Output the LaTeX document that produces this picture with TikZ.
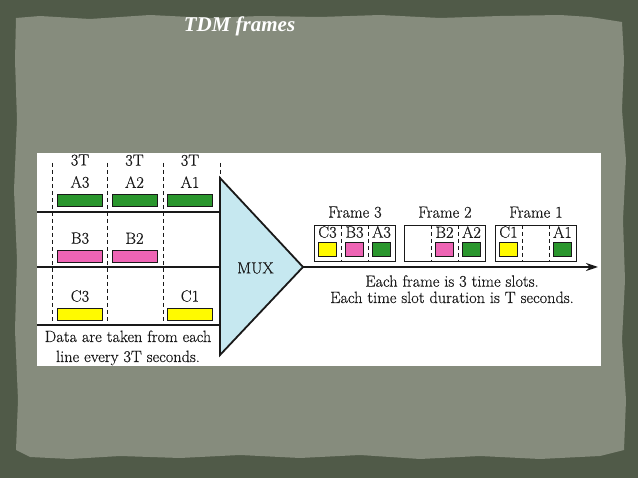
\documentclass[tikz,border=0pt]{standalone}
\usepackage{fontspec}
\usepackage{xcolor}
\usepackage{tikz}
\usetikzlibrary{arrows.meta,positioning}
\newfontfamily\titlefont{Liberation Serif}
\newfontfamily\diagfont{Latin Modern Roman}[FakeBold=0.35]
\definecolor{PaperDark}{RGB}{80,90,72}
\definecolor{PaperLight}{RGB}{134,140,125}
\definecolor{MuxBlue}{RGB}{198,232,240}
\definecolor{SlotGreen}{RGB}{42,150,45}
\definecolor{SlotPink}{RGB}{238,100,180}
\definecolor{SlotYellow}{RGB}{255,250,0}
\definecolor{InkGray}{RGB}{25,25,25}

\begin{document}
\begin{tikzpicture}[
    x=1pt, y=-1pt,
    txt/.style={inner sep=0pt, text=InkGray, font=\diagfont\fontsize{16.3}{19}\selectfont},
    databar/.style={draw=InkGray, line width=0.8pt, minimum width=45pt, minimum height=12pt, inner sep=0pt},
    slotcell/.style={draw=InkGray, line width=0.8pt, minimum width=18pt, minimum height=14pt, inner sep=0pt},
    framebox/.style={draw=InkGray, line width=0.9pt, minimum width=81pt, minimum height=36pt, inner sep=0pt},
    solidline/.style={draw=InkGray, line width=1.8pt},
    slotline/.style={draw=InkGray, line width=0.9pt, dash pattern=on 4pt off 3pt},
    muxshape/.style={draw=InkGray, fill=MuxBlue, line width=1.8pt, line join=miter},
    arrow/.style={-{Stealth[length=12pt,width=8pt]}, line width=1.6pt, draw=InkGray}
  ]
    \useasboundingbox (0,0) rectangle (638,478);
    \fill[PaperDark] (0,0) rectangle (638,478);
    \fill[PaperLight] (16,18) -- (40,16) -- (90,19) -- (150,15) -- (210,18) -- (260,16) -- (320,17) -- (380,15) -- (440,18) -- (500,16) -- (560,15) -- (590,17) -- (622,22)
      -- (624,60) -- (622,110) -- (626,160) -- (623,220) -- (625,280) -- (622,340) -- (626,400) -- (624,450)
      -- (600,456) -- (540,459) -- (480,456) -- (420,459) -- (360,455) -- (300,458) -- (240,455) -- (180,458) -- (120,456) -- (70,459) -- (30,457) -- (16,450)
      -- (18,400) -- (15,330) -- (17,260) -- (14,190) -- (17,120) -- (15,60) -- cycle;
    \node[font=\titlefont\bfseries\itshape\fontsize{21}{24}\selectfont, text=white, inner sep=0pt, anchor=base] (title) at (239.5,31.7) {TDM frames};
    \fill[white] (37,153.5) rectangle (601,366);
    \foreach \vx in {52,107,163}
      \draw[slotline] (\vx,163) -- (\vx,325);
    \draw[slotline] (220,163) -- (220,178);
    \foreach \hy in {211.7,267.3,325}
      \draw[solidline] (37,\hy) -- (220,\hy);
    \foreach \bx/\bn/\bc/\by in {80/A3/SlotGreen/200, 134.5/A2/SlotGreen/200, 190/A1/SlotGreen/200, 80/B3/SlotPink/256, 134.5/B2/SlotPink/256, 80/C3/SlotYellow/314, 190/C1/SlotYellow/314} {
      \node[databar, fill=\bc] (bar\bn) at (\bx,\by) {};
      \node[txt, above=5.5pt of bar\bn] (in\bn) {\bn};
    }
    \foreach \bn in {A3,A2,A1}
      \node[txt, above=10pt of in\bn] (period\bn) {3T};
    \node[txt, anchor=base] (note1) at (128,342) {Data are taken from each};
    \node[txt, anchor=base] (note2) at (128,362) {line every 3T seconds.};
    \coordinate (muxtop) at (220,178);
    \coordinate (muxbot) at (220,355);
    \coordinate (muxtip) at (303,267);
    \draw[muxshape] (muxtop) -- (muxtip) -- (muxbot) -- cycle;
    \node[txt] (mux) at (255.5,268) {MUX};
    \coordinate (lineend) at (598,267);
    \draw[arrow] (muxtip) -- (lineend);
    \foreach \fx/\fn in {314/3,404/2,495/1} {
      \node[framebox, anchor=north west] (frame\fn) at (\fx,225) {};
      \node[txt, above=7pt of frame\fn] (frame\fn lbl) {Frame \fn};
      \draw[slotline] (\fx+27,225) -- (\fx+27,261);
      \draw[slotline] (\fx+54,225) -- (\fx+54,261);
    }
    \foreach \cx/\cn/\cc in {327.5/C3/SlotYellow, 354.5/B3/SlotPink, 381.5/A3/SlotGreen, 444.5/B2/SlotPink, 471.5/A2/SlotGreen, 508.5/C1/SlotYellow, 562.5/A1/SlotGreen} {
      \node[slotcell, fill=\cc] (cell\cn) at (\cx,249) {};
      \node[txt, above=3.5pt of cell\cn] (lbl\cn) {\cn};
    }
    \node[txt, anchor=base] (rule1) at (452,286.7) {Each frame is 3 time slots.};
    \node[txt, anchor=base] (rule2) at (452,303) {Each time slot duration is T seconds.};
  \end{tikzpicture}
\end{document}
